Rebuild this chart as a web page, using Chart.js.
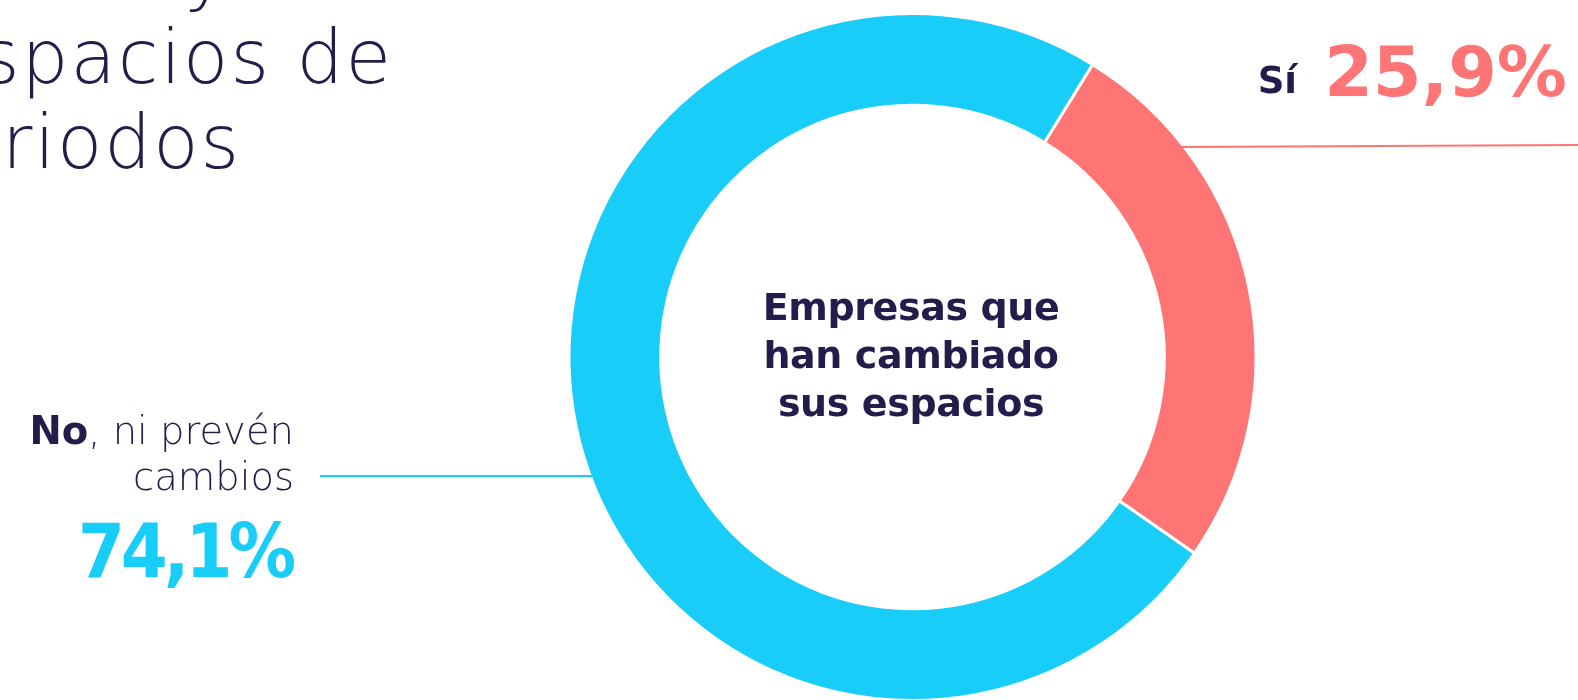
<!DOCTYPE html>
<html lang="es">
<head>
<meta charset="utf-8">
<title>Empresas que han cambiado sus espacios</title>
<script src="https://cdn.jsdelivr.net/npm/chart.js@4.4.1/dist/chart.umd.min.js"></script>
<style>
  html, body { margin: 0; padding: 0; background: #fff; overflow: hidden; }
  body { width: 1578px; height: 700px; position: relative; font-family: "DejaVu Sans", sans-serif; color: #221d4b; }
  #wrap { position: absolute; left: 0; top: 0; width: 1578px; height: 720px; }
  .txt { position: absolute; white-space: nowrap; line-height: 1; }
  .title { font-weight: 200; font-size: 74px; letter-spacing: 2px; }
  .center { position: absolute; left: 711px; width: 400px; top: 283px; text-align: center;
            font-weight: 700; font-size: 38px; line-height: 48px; letter-spacing: -0.4px; }
  .side { font-weight: 200; font-size: 38.5px; text-align: right; }
  .pct { font-weight: 700; }
</style>
</head>
<body>
<div id="wrap"><canvas id="chart"></canvas></div>

<!-- titulo cortado en la esquina -->
<div class="txt title" style="left:184px; top:-65px;">y</div>
<div class="txt title" style="left:-19px; top:20px;">spacios de</div>
<div class="txt title" style="left:2px; top:105px;">riodos</div>

<div class="center">Empresas que<br>han cambiado<br>sus espacios</div>

<div class="txt" style="right:281px; top:62px; font-weight:700; font-size:37px;">Sí</div>
<div class="txt pct" style="right:11px; top:37px; font-size:70px; color:#ff7575;">25,9%</div>

<div class="txt side" style="right:1284px; top:412px;"><b style="font-weight:700">No</b>, ni prevén</div>
<div class="txt side" style="right:1284px; top:458px;">cambios</div>
<div class="txt pct" style="right:1286px; top:514px; font-family:'DejaVu Sans Condensed','DejaVu Sans',sans-serif; font-size:75px; letter-spacing:-4px; color:#19cdf9;">74,1%</div>

<script>
// datos
const labels = ['Sí', 'No, ni prevén cambios'];
const values = [25.9, 74.1];
const colors = ['#ff7575', '#19cdf9'];

// lineas guia desde el anillo hacia las etiquetas
const leaderLines = {
    id: 'leaderLines',
    afterDatasetsDraw(chart) {
        const arc = chart.getDatasetMeta(0).data[0];
        if (!arc) return;
        const cx = arc.x, cy = arc.y;
        const r = arc.outerRadius - 2;
        const ctx = chart.ctx;
        ctx.save();
        ctx.lineWidth = 2;

        // Sí
        let y0 = 147;
        let dx = Math.sqrt(r * r - (cy - y0) * (cy - y0));
        ctx.strokeStyle = colors[0];
        ctx.beginPath();
        ctx.moveTo(cx + dx, y0);
        ctx.lineTo(chart.width, 145);
        ctx.stroke();

        // No
        y0 = 476;
        dx = Math.sqrt(r * r - (cy - y0) * (cy - y0));
        ctx.strokeStyle = colors[1];
        ctx.beginPath();
        ctx.moveTo(320, y0);
        ctx.lineTo(cx - dx, y0);
        ctx.stroke();
        ctx.restore();
    }
};

new Chart(document.getElementById('chart'), {
    type: 'doughnut',
    data: {
        labels: labels,
        datasets: [{
            data: values,
            backgroundColor: colors,
            borderColor: '#ffffff',
            borderWidth: 3
        }]
    },
    options: {
        responsive: true,
        maintainAspectRatio: false,
        animation: false,
        events: [],
        rotation: 31.6,
        cutout: '73.3%',
        layout: {
            padding: { left: 567.5, right: 320.5, top: 12, bottom: 18 }
        },
        plugins: {
            legend: { display: false },
            tooltip: { enabled: false }
        }
    },
    plugins: [leaderLines]
});
</script>
</body>
</html>
